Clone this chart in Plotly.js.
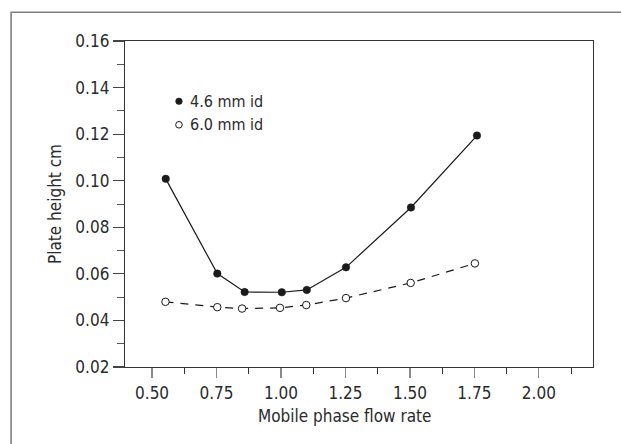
<!DOCTYPE html>
<html>
<head>
<meta charset="utf-8">
<script src="https://cdn.plot.ly/plotly-3.0.1.min.js"></script>
<style>html,body{margin:0;padding:0;background:#fff;}#chart{width:621px;height:444px;}</style>
</head>
<body>
<div id="chart"></div>
<script>
// Data
const flow46 = [0.553, 0.753, 0.859, 1.003, 1.100, 1.252, 1.504, 1.760];
const plate46 = [0.1008, 0.0601, 0.0522, 0.0521, 0.0531, 0.0628, 0.0885, 0.1194];
const flow60 = [0.552, 0.753, 0.849, 0.996, 1.098, 1.252, 1.503, 1.752];
const plate60 = [0.0480, 0.0457, 0.0451, 0.0454, 0.0466, 0.0496, 0.0561, 0.0645];
const seriesNames = ["4.6 mm id", "6.0 mm id"];
const xTitle = "Mobile phase flow rate";
const yTitle = "Plate height cm";

const FONT = "'Liberation Sans Narrow', 'Arial Narrow', 'DejaVu Sans Condensed', sans-serif";
const TXT = "#2a2a2a";
const INK = "#1a1a1a";

const traces = [
  {x: flow46, y: plate46, mode: "lines", line: {color: INK, width: 1.2}, showlegend: false, hoverinfo: "skip"},
  {x: flow60, y: plate60, mode: "lines", line: {color: INK, width: 1.2, dash: "8px,7px"}, showlegend: false, hoverinfo: "skip"},
  {x: flow46, y: plate46, mode: "markers", name: seriesNames[0], showlegend: false,
   marker: {symbol: "circle", size: 7.5, color: INK, line: {color: INK, width: 0.5}}},
  {x: flow60, y: plate60, mode: "markers", name: seriesNames[1], showlegend: false,
   marker: {symbol: "circle", size: 7.5, color: "#ffffff", line: {color: INK, width: 1}}}
];

const legendRows = [0.815, 0.743];
const annotations = [
  {text: xTitle, xref: "paper", yref: "paper", x: 0.47, y: -0.151, xanchor: "center", yanchor: "middle",
   showarrow: false, font: {family: FONT, size: 17, color: TXT}},
  {text: yTitle, xref: "paper", yref: "paper", x: -0.1495, y: 0.5, xanchor: "center", yanchor: "middle",
   textangle: -90, showarrow: false, font: {family: FONT, size: 17, color: TXT}}
];
const shapes = [
  // outer figure frame
  {type: "rect", xref: "paper", yref: "paper", x0: -0.2434, x1: 1.07, y0: -0.27, y1: 1.088,
   line: {color: "#808080", width: 1.6}, fillcolor: "rgba(0,0,0,0)", layer: "below"}
];
seriesNames.forEach((nm, i) => {
  annotations.push({text: nm, xref: "paper", yref: "paper", x: 0.1351, y: legendRows[i],
    xanchor: "left", yanchor: "middle", showarrow: false, font: {family: FONT, size: 16, color: TXT}});
  shapes.push({type: "circle", xref: "paper", yref: "paper", xsizemode: "pixel", ysizemode: "pixel",
    xanchor: 0.1153, yanchor: legendRows[i], x0: -3.3, x1: 3.3, y0: -3.3, y1: 3.3,
    fillcolor: i === 0 ? INK : "#ffffff", line: {color: INK, width: i === 0 ? 0.5 : 1}});
});

const layout = {
  width: 621, height: 444,
  margin: {l: 125, r: 27.7, t: 40.7, b: 77.3},
  paper_bgcolor: "#ffffff", plot_bgcolor: "#ffffff",
  font: {family: FONT, size: 16, color: TXT},
  showlegend: false,
  xaxis: {
    range: [0.395, 2.21], tick0: 0.5, dtick: 0.25, tickformat: ".2f",
    ticks: "outside", ticklen: 10, tickwidth: 1.2, tickcolor: "#8a8a8a",
    minor: {dtick: 0.125, tick0: 0.5, ticks: "outside", ticklen: 6, tickwidth: 1, tickcolor: "#333"},
    showline: true, linecolor: "#333", linewidth: 1.2, mirror: true,
    showgrid: false, zeroline: false, tickfont: {family: FONT, size: 17, color: TXT}
  },
  yaxis: {
    range: [0.02, 0.16], tick0: 0.02, dtick: 0.02, tickformat: ".2f",
    ticks: "outside", ticklen: 11, tickwidth: 1.2, tickcolor: "#444",
    minor: {dtick: 0.01, tick0: 0.02, ticks: "outside", ticklen: 7, tickwidth: 1, tickcolor: "#555"},
    showline: true, linecolor: "#333", linewidth: 1.2, mirror: true,
    showgrid: false, zeroline: false, tickfont: {family: FONT, size: 17, color: TXT}
  },
  annotations: annotations,
  shapes: shapes
};

Plotly.newPlot("chart", traces, layout, {displayModeBar: false, staticPlot: true});
</script>
</body>
</html>
